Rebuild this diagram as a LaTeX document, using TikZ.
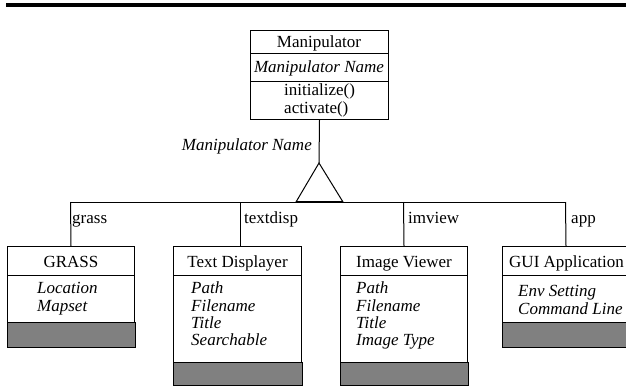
\documentclass[tikz,border=0pt]{standalone}
\usepackage{fontspec}
\setmainfont{Liberation Serif}
\begin{document}
\begin{tikzpicture}[x=1pt,y=-1pt,
  box/.style={draw=black,line width=1pt,inner sep=0pt,anchor=north west},
  graybar/.style={fill=gray,draw=black,line width=1pt},
  ln/.style={line width=1pt},
  txt/.style={font=\fontsize{17}{17}\selectfont,inner sep=0pt},
  itx/.style={font=\fontsize{17}{17}\selectfont\itshape,inner sep=0pt,anchor=base west},
  ]
\useasboundingbox (0,0) rectangle (626,386);
\clip (0,0) rectangle (626,386);
\fill (6,3) rectangle (626,7);

% Manipulator class
\node[box,minimum width=138pt,minimum height=89pt] (man) at (250,30) {};
\draw[ln] (man.west |- 0,53) -- (man.east |- 0,53);
\draw[ln] (man.west |- 0,81) -- (man.east |- 0,81);
\node[txt,anchor=base] (mant) at (319,47.5) {Manipulator};
\node[txt,anchor=base,font=\fontsize{17}{17}\selectfont\itshape] (mana) at (319,72.5) {Manipulator Name};
\node[txt,anchor=base west] (manm1) at (284,95.5) {initialize()};
\node[txt,anchor=base west] (manm2) at (284,113.5) {activate()};

% qualifier label
\node[itx,anchor=base east] (qual) at (312,150.5) {Manipulator Name};

% generalisation triangle
\coordinate (apex) at (319,163);
\coordinate (tl) at (296,202);
\coordinate (tr) at (343,202);
\draw[ln] (man.south) -- (apex);
\draw[ln,line join=miter] (apex) -- (tl) -- (tr) -- cycle;
\draw[line width=1.8pt] (tl) -- (tr);

% bus
\coordinate (b1) at (70.5,202);
\coordinate (b2) at (240,202);
\coordinate (b3) at (403.5,202);
\coordinate (b4) at (565.5,202);
\draw[ln] (b1) -- (b4);

% sub classes
\node[box,minimum width=127pt,minimum height=100pt] (grassbox) at (7,246) {};
\node[box,minimum width=128pt,minimum height=138pt] (tdbox) at (173,246) {};
\node[box,minimum width=127pt,minimum height=138pt] (ivbox) at (340,246) {};
\node[box,minimum width=127pt,minimum height=100pt] (guibox) at (502,246) {};

\draw[ln] (b1) -- (grassbox.north);
\draw[ln] (b2) -- (b2 |- tdbox.north);
\draw[ln] (b3) -- (ivbox.north);
\draw[ln] (b4) -- (guibox.north);

\foreach \b in {grassbox,tdbox,ivbox,guibox}{
  \draw[ln] (\b.west |- 0,275) -- (\b.east |- 0,275);
}
\draw[graybar] (grassbox.south west) rectangle (grassbox.east |- 0,322);
\draw[graybar] (guibox.south west) rectangle (guibox.east |- 0,322);
\draw[graybar] (tdbox.south west) rectangle (tdbox.east |- 0,362);
\draw[graybar] (ivbox.south west) rectangle (ivbox.east |- 0,362);

% role labels
\node[txt,anchor=base west] (lg) at (72,223) {grass};
\node[txt,anchor=base west] (lt) at (244,223) {textdisp};
\node[txt,anchor=base west] (li) at (408,223) {imview};
\node[txt,anchor=base west] (la) at (571,223) {app};

% titles
\node[txt,anchor=base] (tg) at (grassbox.north |- 0,267) {GRASS};
\node[txt,anchor=base] (tt) at (tdbox.north |- 0,267) {Text Displayer};
\node[txt,anchor=base] (ti) at (ivbox.north |- 0,267) {Image Viewer};
\node[txt,anchor=base west] (tu) at (509,267) {GUI Application};

% attributes
\node[itx] (g1) at (37,293.5) {Location};
\node[itx] (g2) at (37,311.5) {Mapset};
\node[itx] (t1) at (191,293.5) {Path};
\node[itx] (t2) at (191,311) {Filename};
\node[itx] (t3) at (191,328) {Title};
\node[itx] (t4) at (191,345.5) {Searchable};
\node[itx] (i1) at (356,293.5) {Path};
\node[itx] (i2) at (356,311) {Filename};
\node[itx] (i3) at (356,328) {Title};
\node[itx] (i4) at (356,345.5) {Image Type};
\node[itx] (u1) at (518,296.5) {Env Setting};
\node[itx] (u2) at (518,314) {Command Line};
\end{tikzpicture}
\end{document}
